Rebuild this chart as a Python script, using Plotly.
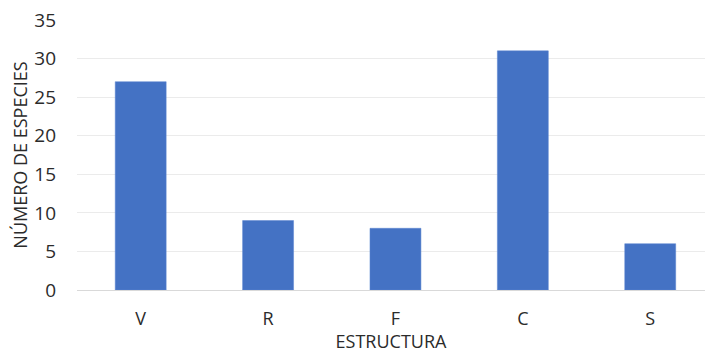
import plotly.graph_objects as go

categorias = ["V", "R", "F", "C", "S"]
especies = [27, 9, 8, 31, 6]
y_ticks = [0, 5, 10, 15, 20, 25, 30, 35]

font_family = "Open Sans, Liberation Sans, sans-serif"
text_color = "#2B2B2B"

fig = go.Figure(
    go.Bar(
        x=categorias,
        y=especies,
        marker=dict(color="#4472C4", line=dict(color="#5B85D0", width=0.5)),
    )
)

fig.update_layout(
    width=705,
    height=353,
    margin=dict(l=77, r=0, t=20, b=63),
    paper_bgcolor="white",
    plot_bgcolor="white",
    bargap=0.6,
    showlegend=False,
    font=dict(family=font_family, size=18, color=text_color),
)

fig.update_xaxes(
    range=[-0.5, 4.43],
    showgrid=False,
    showline=False,
    ticks="",
    tickfont=dict(size=18, color=text_color),
    ticklabelstandoff=16,
    title=dict(text="ESTRUCTURA", font=dict(size=18, color=text_color), standoff=7),
)

fig.update_yaxes(
    range=[0, 35],
    tickvals=y_ticks,
    showgrid=True,
    gridcolor="#EBEBEB",
    gridwidth=1,
    zeroline=True,
    zerolinecolor="#D9D9D9",
    zerolinewidth=1,
    showline=False,
    ticks="",
    tickfont=dict(size=19, color=text_color),
    ticklabelstandoff=20,
    title=dict(text="NÚMERO DE ESPECIES", font=dict(size=18, color=text_color), standoff=1),
)

fig.write_html("out.html")
